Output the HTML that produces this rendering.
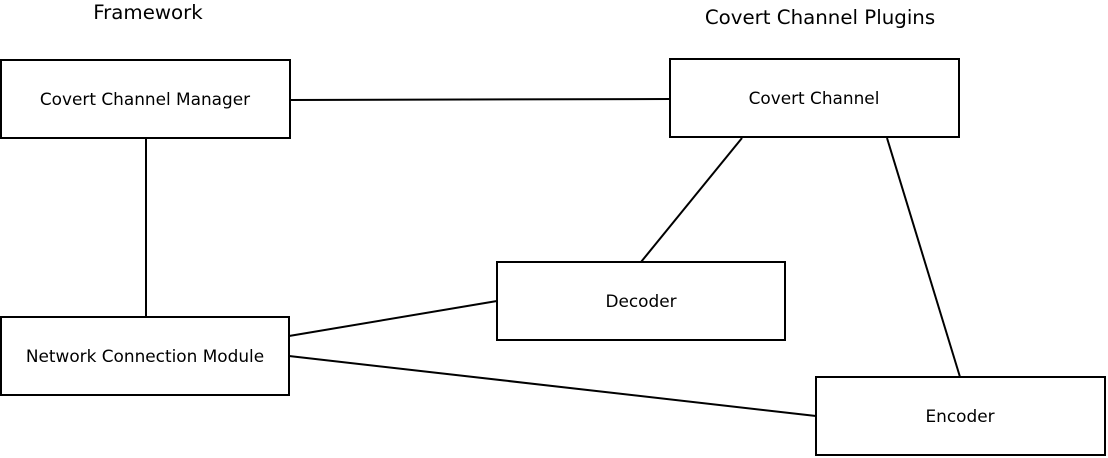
<!DOCTYPE html>
<html><head><meta charset="utf-8"><style>
html,body{margin:0;padding:0;background:#fff;}
svg{display:block;}
text{font-family:"DejaVu Sans","Liberation Sans",sans-serif;fill:#000;}
.t{font-size:19.8px;}
.b{font-size:16.9px;}
</style></head><body>
<svg width="1108" height="458" viewBox="0 0 1108 458" xmlns="http://www.w3.org/2000/svg">
<g stroke="#000" stroke-width="2" fill="none">
<line x1="290" y1="100" x2="670" y2="99"/>
<line x1="146" y1="138" x2="146" y2="317"/>
<line x1="742" y1="138" x2="641" y2="262"/>
<line x1="887" y1="138" x2="960" y2="377"/>
<line x1="289" y1="336" x2="497" y2="301"/>
<line x1="289" y1="356" x2="816" y2="416"/>
<rect x="1" y="60" width="289" height="78" fill="#fff"/>
<rect x="670" y="59" width="289" height="78" fill="#fff"/>
<rect x="497" y="262" width="288" height="78" fill="#fff"/>
<rect x="1" y="317" width="288" height="78" fill="#fff"/>
<rect x="816" y="377" width="289" height="78" fill="#fff"/>
</g>
<g text-anchor="middle">
<text class="t" x="148" y="19">Framework</text>
<text class="t" x="820" y="24">Covert Channel Plugins</text>
<text class="b" x="145" y="105">Covert Channel Manager</text>
<text class="b" x="814" y="104">Covert Channel</text>
<text class="b" x="641" y="307">Decoder</text>
<text class="b" x="145" y="362">Network Connection Module</text>
<text class="b" x="960" y="422">Encoder</text>
</g>
</svg>
</body></html>
